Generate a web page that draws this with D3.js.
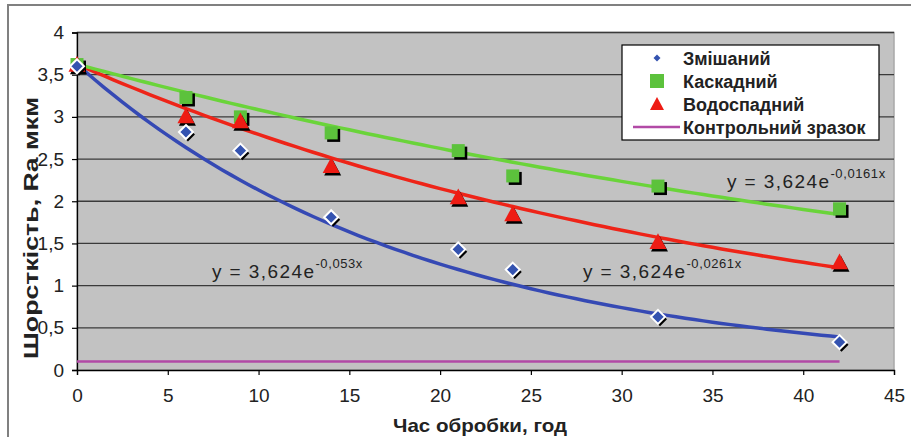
<!DOCTYPE html>
<html><head><meta charset="utf-8">
<script src="https://cdn.jsdelivr.net/npm/d3@7"></script>
<style>body{margin:0;background:#fff}svg{display:block}text{font-family:"Liberation Sans",Arial,sans-serif}</style>
</head><body>
<svg id="c" width="911" height="437"></svg>
<script>
// ---- data ----
const hours = [0, 6, 9, 14, 21, 24, 32, 42];
const mixed = [3.6, 2.82, 2.6, 1.81, 1.43, 1.19, 0.63, 0.33];
const cascade = [3.62, 3.23, 3.0, 2.81, 2.6, 2.3, 2.18, 1.91];
const waterfall = [3.62, 3.01, 2.95, 2.42, 2.05, 1.85, 1.52, 1.28];
const controlX = [0, 42];
const controlY = [0.1, 0.1];
const seriesNames = ["Змішаний", "Каскадний", "Водоспадний", "Контрольний зразок"];
const trendA = [3.624, 3.624, 3.624];
const trendK = [0.053, 0.0261, 0.0161];
const trendLabels = ["-0,053x", "-0,0261x", "-0,0161x"];
const xTicks = [0, 5, 10, 15, 20, 25, 30, 35, 40, 45];
const yTicks = [0, 0.5, 1, 1.5, 2, 2.5, 3, 3.5, 4];

const svg = d3.select("#c");
const x = d3.scaleLinear().domain([0, 45]).range([77, 894]);
const y = d3.scaleLinear().domain([0, 4]).range([370, 32.5]);
const fmt = v => String(v).replace(".", ",");

// outer frame
svg.append("rect").attr("x", 8).attr("y", 5).attr("width", 920).attr("height", 450)
  .attr("fill", "#fff").attr("stroke", "#808080").attr("stroke-width", 2);

// plot area
svg.append("rect").attr("x", x(0)).attr("y", y(4)).attr("width", x(45) - x(0)).attr("height", y(0) - y(4))
  .attr("fill", "#c2c2c2").attr("stroke", "#a8a8a8").attr("stroke-width", 1.5);

// gridlines
svg.append("g").selectAll("line").data(yTicks.filter(d => d > 0)).join("line")
  .attr("x1", x(0)).attr("x2", x(45)).attr("y1", d => y(d)).attr("y2", d => y(d))
  .attr("stroke", "#3a3a3a").attr("stroke-width", 1.3);

// axes
const yAxis = svg.append("g").attr("transform", `translate(${x(0)},0)`)
  .call(d3.axisLeft(y).tickValues(yTicks).tickFormat(fmt).tickSize(5).tickPadding(8));
const xAxis = svg.append("g").attr("transform", `translate(0,${y(0)})`)
  .call(d3.axisBottom(x).tickValues(xTicks).tickSize(5).tickPadding(14));
[yAxis, xAxis].forEach(a => {
  a.attr("font-size", 19).attr("font-family", '"Liberation Sans",Arial,sans-serif');
  a.select(".domain").attr("stroke", "#000").attr("stroke-width", 1.3);
  a.selectAll(".tick line").attr("stroke", "#000").attr("stroke-width", 1.2);
  a.selectAll("text").attr("font-size", 19).attr("fill", "#222");
});

// axis titles
svg.append("text").attr("x", 480).attr("y", 432).attr("text-anchor", "middle")
  .attr("font-size", 19).attr("font-weight", "bold").attr("fill", "#222")
  .attr("textLength", 174).attr("lengthAdjust", "spacingAndGlyphs").text("Час обробки, год");
svg.append("text").attr("transform", "translate(38,228) rotate(-90)").attr("text-anchor", "middle")
  .attr("font-size", 20).attr("font-weight", "bold").attr("fill", "#222")
  .attr("textLength", 262).attr("lengthAdjust", "spacingAndGlyphs").text("Шорсткість, Ra мкм");

// control line
const line = d3.line().x(d => x(d[0])).y(d => y(d[1]));
svg.append("path").datum(controlX.map((v, i) => [v, controlY[i]])).attr("d", line)
  .attr("fill", "none").attr("stroke", "#b24aa6").attr("stroke-width", 2.5);

// trendlines from the printed equations
const trendColors = ["#3549b4", "#ee2418", "#6ad43a"];
const samples = d3.range(0, 42.01, 0.5);
trendK.forEach((k, i) => {
  svg.append("path").datum(samples.map(t => [t, trendA[i] * Math.exp(-k * t)])).attr("d", line)
    .attr("fill", "none").attr("stroke", trendColors[i]).attr("stroke-width", 3.5);
});

// markers
function marker(g, type, cx, cy, fill, s) {
  if (type === "diamond") {
    const r = s;
    const p = (dx, dy) => `M${cx + dx},${cy + dy - r}L${cx + dx + r},${cy + dy}L${cx + dx},${cy + dy + r}L${cx + dx - r},${cy + dy}Z`;
    g.append("path").attr("d", p(2, 2.5)).attr("fill", "#000");
    g.append("path").attr("d", p(0, 0)).attr("fill", fill).attr("stroke", "#fff").attr("stroke-width", 2);
  } else if (type === "square") {
    g.append("rect").attr("x", cx - s + 2.5).attr("y", cy - s + 2.5).attr("width", 2 * s).attr("height", 2 * s).attr("fill", "#000");
    g.append("rect").attr("x", cx - s).attr("y", cy - s).attr("width", 2 * s).attr("height", 2 * s).attr("fill", fill);
  } else {
    const p = (dx, dy) => `M${cx + dx},${cy + dy - s}L${cx + dx + s},${cy + dy + s * 0.85}L${cx + dx - s},${cy + dy + s * 0.85}Z`;
    g.append("path").attr("d", p(1.5, 2.5)).attr("fill", "#000");
    g.append("path").attr("d", p(0, 0)).attr("fill", fill);
  }
}
const mg = svg.append("g");
hours.forEach((h, i) => marker(mg, "square", x(h), y(cascade[i]), "#5cc23c", 6.5));
hours.forEach((h, i) => marker(mg, "triangle", x(h), y(waterfall[i]), "#ee1c14", 8.5));
hours.forEach((h, i) => marker(mg, "diamond", x(h), y(mixed[i]), "#3453b0", 7));

// equation labels
const eqPos = [[212, 278], [583, 278], [727, 188]];
eqPos.forEach((p, i) => {
  const t = svg.append("text").attr("x", p[0]).attr("y", p[1]).attr("fill", "#222");
  t.append("tspan").attr("font-size", 19).attr("textLength", 102).attr("lengthAdjust", "spacing")
    .text("y = " + fmt(trendA[i]) + "e");
  t.append("tspan").attr("dy", -10).attr("font-size", 13).attr("letter-spacing", 0.6).text(trendLabels[i]);
});

// legend
const lg = svg.append("g");
lg.append("rect").attr("x", 622).attr("y", 45).attr("width", 257).attr("height", 95)
  .attr("fill", "#fff").attr("stroke", "#000").attr("stroke-width", 1.2);
const rows = [58, 81, 104, 127];
seriesNames.forEach((n, i) => {
  lg.append("text").attr("x", 683).attr("y", rows[i] + 6.5).attr("font-size", 18).attr("font-weight", "bold")
    .attr("fill", "#222").text(n);
});
lg.append("path").attr("d", `M657,${rows[0] - 3.5}L660.5,${rows[0]}L657,${rows[0] + 3.5}L653.5,${rows[0]}Z`).attr("fill", "#3453b0");
lg.append("rect").attr("x", 650).attr("y", rows[1] - 7).attr("width", 14).attr("height", 14).attr("fill", "#5cc23c");
lg.append("path").attr("d", `M657,${rows[2] - 7}L664,${rows[2] + 6}L650,${rows[2] + 6}Z`).attr("fill", "#ee1c14");
lg.append("line").attr("x1", 633).attr("x2", 680).attr("y1", rows[3]).attr("y2", rows[3])
  .attr("stroke", "#b24aa6").attr("stroke-width", 2.5);
</script>
</body></html>
